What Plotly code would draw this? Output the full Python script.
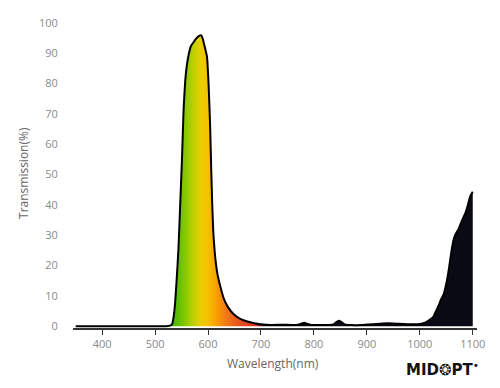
import plotly.graph_objects as go

# Wavelength (nm) and transmission (%)
wavelength = [350, 400, 450, 500, 520, 528, 532, 535, 538, 541, 544, 547, 551, 554, 557, 560,
              564, 568, 572, 576, 580, 584, 587, 590, 594, 598, 601, 604, 606, 608, 610, 612,
              614, 618, 624, 630, 638, 648, 660, 670, 680, 690, 700, 720, 740, 760, 770, 776,
              782, 788, 795, 810, 830, 838, 843, 848, 853, 858, 870, 890, 910, 930, 950, 970,
              990, 1000, 1010, 1020, 1026, 1030, 1036, 1040, 1045, 1050, 1055, 1060, 1064,
              1068, 1073, 1080, 1086, 1090, 1095, 1100]
transmission = [0, 0, 0, 0, 0, 0.2, 0.6, 3, 8, 16, 25, 38, 56, 72, 81, 86,
                90, 92.5, 93.5, 94.5, 95.3, 95.8, 96, 94.8, 92, 89, 80, 66, 52, 40, 31, 26,
                22, 17, 12.6, 9, 6.2, 4, 2.5, 1.8, 1.3, 0.9, 0.6, 0.4, 0.5, 0.4, 0.5, 0.8,
                1.1, 0.7, 0.4, 0.35, 0.4, 0.7, 1.4, 1.8, 1.2, 0.6, 0.35, 0.35, 0.6, 0.9, 0.9, 0.7,
                0.6, 0.7, 1.2, 2.3, 3.2, 4.8, 7, 8.8, 10.5, 14, 19, 25, 28.7,
                30.5, 32, 35, 37.3, 39.5, 42.7, 44.3]

x_ticks = [400, 500, 600, 700, 800, 900, 1000, 1100]
y_ticks = [0, 10, 20, 30, 40, 50, 60, 70, 80, 90, 100]

# spectral colour stops (nm, colour)
spectrum_nm = [350, 522, 532, 550, 570, 585, 600, 615, 635, 660, 690, 705, 1100]
spectrum_col = ["#0a0a14", "#2fb000", "#3cb800", "#70c400", "#b4d000", "#e6d000",
                "#f8c000", "#f8a000", "#f07818", "#e85020", "#e03020", "#0a0a14", "#0a0a14"]

g0, g1 = spectrum_nm[0], spectrum_nm[-1]
colorscale = [[(n - g0) / (g1 - g0), c] for n, c in zip(spectrum_nm, spectrum_col)]

# the page body has an 8px default margin: compensate in the layout
OFF = 8

fig = go.Figure()
fig.add_trace(go.Scatter(
    x=wavelength, y=transmission, mode="lines",
    line=dict(color="#000000", width=2, shape="spline", smoothing=0.4),
    fill="tozeroy",
    fillgradient=dict(type="horizontal", colorscale=colorscale, start=g0, stop=g1),
    hoverinfo="skip", showlegend=False,
))

tick_font = dict(family="Open Sans, Lato, sans-serif", size=11, color="#8a8a8a")
fig.update_layout(
    width=500, height=388,
    margin=dict(l=72.7 - OFF, r=23.3 + OFF, t=15 - OFF, b=60 + OFF),
    paper_bgcolor="white", plot_bgcolor="white",
    xaxis=dict(range=[345, 1108], tickvals=x_ticks, ticks="outside", ticklen=5,
               tickcolor="#333333", tickwidth=1, showline=True, linecolor="#333333",
               linewidth=1.5, showgrid=False, zeroline=False, tickfont=tick_font,
               ticklabeloverflow="allow"),
    yaxis=dict(range=[-0.6, 100], tickvals=y_ticks, ticks="outside", ticklen=12,
               tickcolor="rgba(0,0,0,0)", showline=False,
               showgrid=False, zeroline=False, tickfont=tick_font,
               ticklabeloverflow="allow"),
    annotations=[
        dict(text="Wavelength(nm)", xref="paper", yref="paper", x=0.496, y=-0.118,
             showarrow=False, xanchor="center", yanchor="middle",
             font=dict(family="Open Sans, Lato, sans-serif", size=12, color="#666666")),
        dict(text="Transmission(%)", xref="paper", yref="paper", x=-0.124, y=0.508,
             showarrow=False, xanchor="center", yanchor="middle", textangle=-90,
             font=dict(family="Open Sans, Lato, sans-serif", size=12, color="#666666")),
        dict(text="<b>MID❂PT</b><sup>•</sup>", xref="paper", yref="paper", x=0.915, y=-0.134,
             showarrow=False, xanchor="center", yanchor="middle",
             font=dict(family="DejaVu Sans, sans-serif", size=15, color="#111111")),
    ],
)

fig.write_html("out.html")
